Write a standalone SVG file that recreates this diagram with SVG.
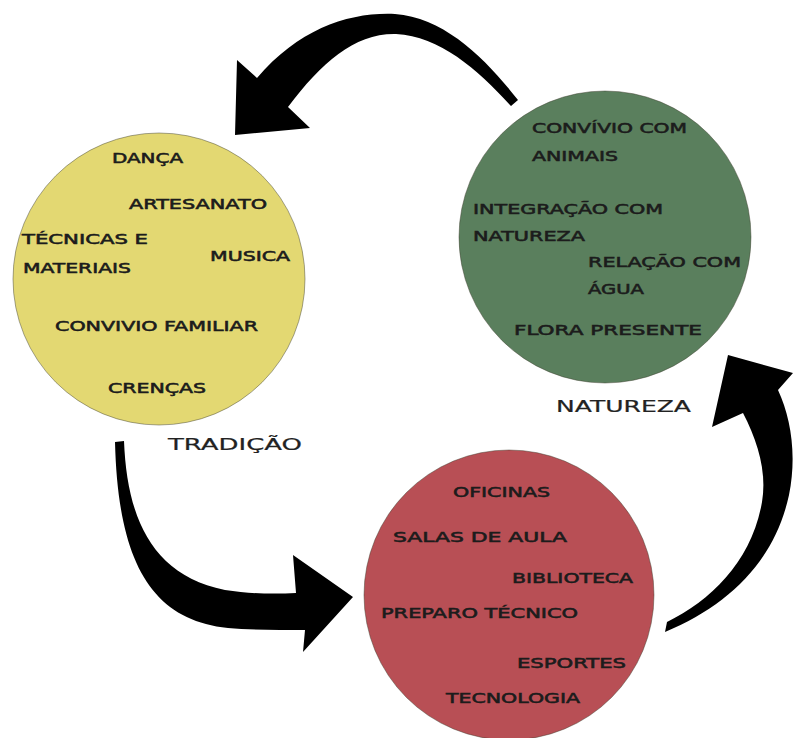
<svg xmlns="http://www.w3.org/2000/svg" width="794" height="738" viewBox="0 0 794 738">
<style>
.c{stroke:#3a3a2a;stroke-opacity:0.45;stroke-width:1}
.t{font-family:"DejaVu Sans","Liberation Sans",sans-serif;font-size:13.5px;font-weight:normal;fill:#1c1c1c;stroke:#1c1c1c;stroke-width:0.55px}
.l{font-family:"DejaVu Sans","Liberation Sans",sans-serif;font-size:15px;fill:#222;stroke:#222;stroke-width:0.2px}
.a{fill:#000}
</style>
<rect width="794" height="738" fill="#fff"/>
<g id="connectors">
<path class="a" d="M257,78 C300,28 350,12 395,14 C445,18 485,58 518,100 L511,106 C478,70 440,36 396,34 C355,33 322,62 288,107 L310,128 L235,135 L237,60 Z"/>
<path class="a" d="M115,442 L124,441 C127,515 150,575 225,590 C250,594 275,594 296,593 L293,555 L353,597 L303,652 L305,630 C280,630 250,630 228,628 C150,620 118,560 115,442 Z"/>
<path class="a" d="M665,632 C730,605 775,560 789,495 C797,455 791,418 778,390 L793,373 L728,355 L712,427 L743,413 C758,442 767,472 762,502 C752,560 712,600 667,622 Z"/>
</g>
<g id="tradicao">
<circle class="c" cx="159" cy="279" r="146" fill="#e3d872"/>
<text class="t" x="112" y="163" textLength="71" lengthAdjust="spacingAndGlyphs">DANÇA</text>
<text class="t" x="129" y="209" textLength="138" lengthAdjust="spacingAndGlyphs">ARTESANATO</text>
<text class="t" x="22" y="244" textLength="126" lengthAdjust="spacingAndGlyphs">TÉCNICAS E</text>
<text class="t" x="23" y="273" textLength="108" lengthAdjust="spacingAndGlyphs">MATERIAIS</text>
<text class="t" x="210" y="261" textLength="80" lengthAdjust="spacingAndGlyphs">MUSICA</text>
<text class="t" x="55" y="331" textLength="203" lengthAdjust="spacingAndGlyphs">CONVIVIO FAMILIAR</text>
<text class="t" x="108" y="393" textLength="98" lengthAdjust="spacingAndGlyphs">CRENÇAS</text>
<text class="l" x="168" y="450" textLength="134" lengthAdjust="spacingAndGlyphs">TRADIÇÃO</text>
</g>
<g id="natureza">
<circle class="c" cx="605" cy="237" r="146" fill="#5a7f5d"/>
<text class="t" x="532" y="133" textLength="155" lengthAdjust="spacingAndGlyphs">CONVÍVIO COM</text>
<text class="t" x="532" y="161" textLength="86" lengthAdjust="spacingAndGlyphs">ANIMAIS</text>
<text class="t" x="473" y="214" textLength="190" lengthAdjust="spacingAndGlyphs">INTEGRAÇÃO COM</text>
<text class="t" x="473" y="241" textLength="112" lengthAdjust="spacingAndGlyphs">NATUREZA</text>
<text class="t" x="588" y="267" textLength="153" lengthAdjust="spacingAndGlyphs">RELAÇÃO COM</text>
<text class="t" x="588" y="294" textLength="56" lengthAdjust="spacingAndGlyphs">ÁGUA</text>
<text class="t" x="514" y="335" textLength="188" lengthAdjust="spacingAndGlyphs">FLORA PRESENTE</text>
<text class="l" x="556" y="412" textLength="135" lengthAdjust="spacingAndGlyphs">NATUREZA</text>
</g>
<g id="educacao">
<circle class="c" cx="509" cy="595" r="145" fill="#b84f55"/>
<text class="t" x="453" y="497" textLength="97" lengthAdjust="spacingAndGlyphs">OFICINAS</text>
<text class="t" x="393" y="542" textLength="174" lengthAdjust="spacingAndGlyphs">SALAS DE AULA</text>
<text class="t" x="512" y="583" textLength="121" lengthAdjust="spacingAndGlyphs">BIBLIOTECA</text>
<text class="t" x="381" y="618" textLength="197" lengthAdjust="spacingAndGlyphs">PREPARO TÉCNICO</text>
<text class="t" x="517" y="668" textLength="109" lengthAdjust="spacingAndGlyphs">ESPORTES</text>
<text class="t" x="446" y="703" textLength="134" lengthAdjust="spacingAndGlyphs">TECNOLOGIA</text>
</g>
</svg>
